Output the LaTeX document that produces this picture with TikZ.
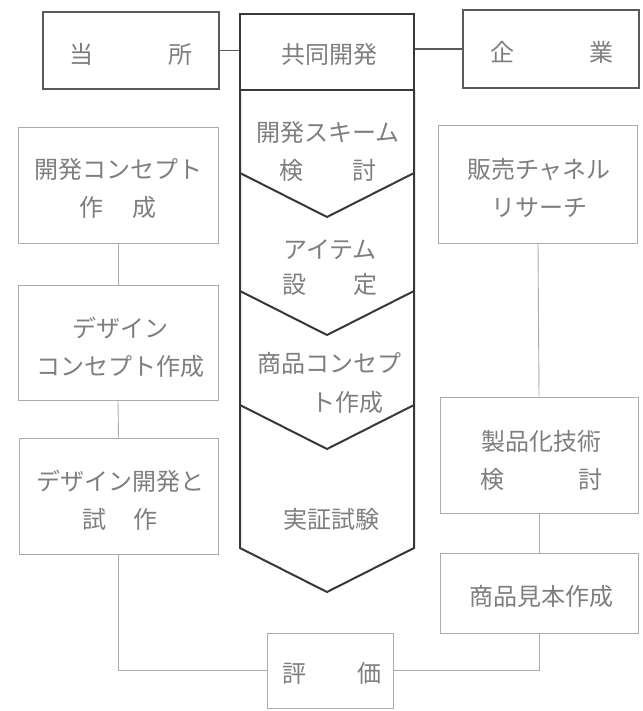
\documentclass[tikz,border=0pt]{standalone}
\usepackage{fontspec}
\newfontfamily\jp{Noto Sans CJK JP}
\definecolor{txt}{HTML}{7E7E7E}
\definecolor{thinline}{HTML}{ABABAB}
\definecolor{midline}{HTML}{5A5A5A}
\definecolor{thickline}{HTML}{383838}
\begin{document}
\begin{tikzpicture}[x=1pt,y=-1pt,
  jtext/.style={font=\jp\fontsize{24}{38}\selectfont, text=txt, inner sep=0pt, align=center},
  sidebox/.style={draw=thinline, line width=0.9pt, inner sep=0pt},
  topbox/.style={draw=midline, line width=1.4pt, inner sep=0pt},
  colbox/.style={draw=thickline, line width=2pt, inner sep=0pt},
  link/.style={draw=thinline, line width=0.9pt},
  toplink/.style={draw=midline, line width=1.4pt},
  column/.style={draw=thickline, line width=2pt, line join=miter}
]
\useasboundingbox (0,0) rectangle (642,711);
\fill[white] (0,0) rectangle (642,711);

% top row
\node[topbox, minimum width=176pt, minimum height=77pt] (tosho) at (131,50.5) {};
\node[jtext] (toshot) at (131,54) {当\hspace{75pt}所};
\node[colbox, minimum width=174pt, minimum height=76pt] (kyodo) at (327,52) {};
\node[jtext] (kyodot) at (329,54) {共同開発};
\node[topbox, minimum width=176pt, minimum height=78pt] (kigyo) at (551,49) {};
\node[jtext] (kigyot) at (552,52.5) {企\hspace{75pt}業};
\draw[toplink] (tosho.east) -- (tosho.east -| kyodo.west);
\draw[toplink] (kyodo.east |- kigyo.west) -- (kigyo.west);

% central column
\coordinate (cTL) at (240,90);
\coordinate (cTR) at (414,90);
\draw[column] (cTL) -- (240,548) -- (327,592) -- (414,548) -- (cTR);
\draw[column] (240,173) -- (327,217) -- (414,173);
\draw[column] (240,291) -- (327,335) -- (414,291);
\draw[column] (240,405) -- (327,449) -- (414,405);
\node[jtext] (c1) at (328,151) {開発スキーム\\検\hspace{49pt}討};
\node[jtext, font=\jp\fontsize{24}{35}\selectfont] (c2) at (330,268) {アイテム\\設\hspace{47pt}定};
\node[jtext, font=\jp\fontsize{24}{39}\selectfont] (c3) at (329,383) {商品コンセプ\\\hspace*{36pt}ト作成};
\node[jtext] (c4) at (331,519.5) {実証試験};

% left column
\node[sidebox, minimum width=200pt, minimum height=116pt] (L1) at (118,185) {};
\node[jtext] (L1t) at (118,189) {開発コンセプト\\作\hspace{29pt}成};
\node[sidebox, minimum width=200pt, minimum height=115pt] (L2) at (118,342.5) {};
\node[jtext] (L2t) at (120,347) {デザイン\\コンセプト作成};
\node[sidebox, minimum width=199pt, minimum height=116pt] (L3) at (118.5,496) {};
\node[jtext] (L3t) at (120,500.5) {デザイン開発と\\試\hspace{27pt}作};

% right column
\node[sidebox, minimum width=199pt, minimum height=118pt] (R1) at (538,184) {};
\node[jtext] (R1t) at (539,188) {販売チャネル\\リサーチ};
\node[sidebox, minimum width=198pt, minimum height=116pt] (R2) at (539,455) {};
\node[jtext] (R2t) at (541,460) {製品化技術\\検\hspace{74pt}討};
\node[sidebox, minimum width=198pt, minimum height=80pt] (R3) at (539,593) {};
\node[jtext] (R3t) at (541,596.5) {商品見本作成};

% evaluation
\node[sidebox, minimum width=126pt, minimum height=75pt] (hyoka) at (330,670.5) {};
\node[jtext] (hyokat) at (332,673.5) {評\hspace{51pt}価};

% connectors
\draw[link] (L1.south) -- (L2.north);
\draw[link] (L2.south) -- (L3.north);
\draw[link] (L3.south) |- (hyoka.west);
\draw[link] (R1.south) -- (R2.north);
\draw[link] (R2.south) -- (R3.north);
\draw[link] (R3.south) |- (hyoka.east);
\end{tikzpicture}
\end{document}
